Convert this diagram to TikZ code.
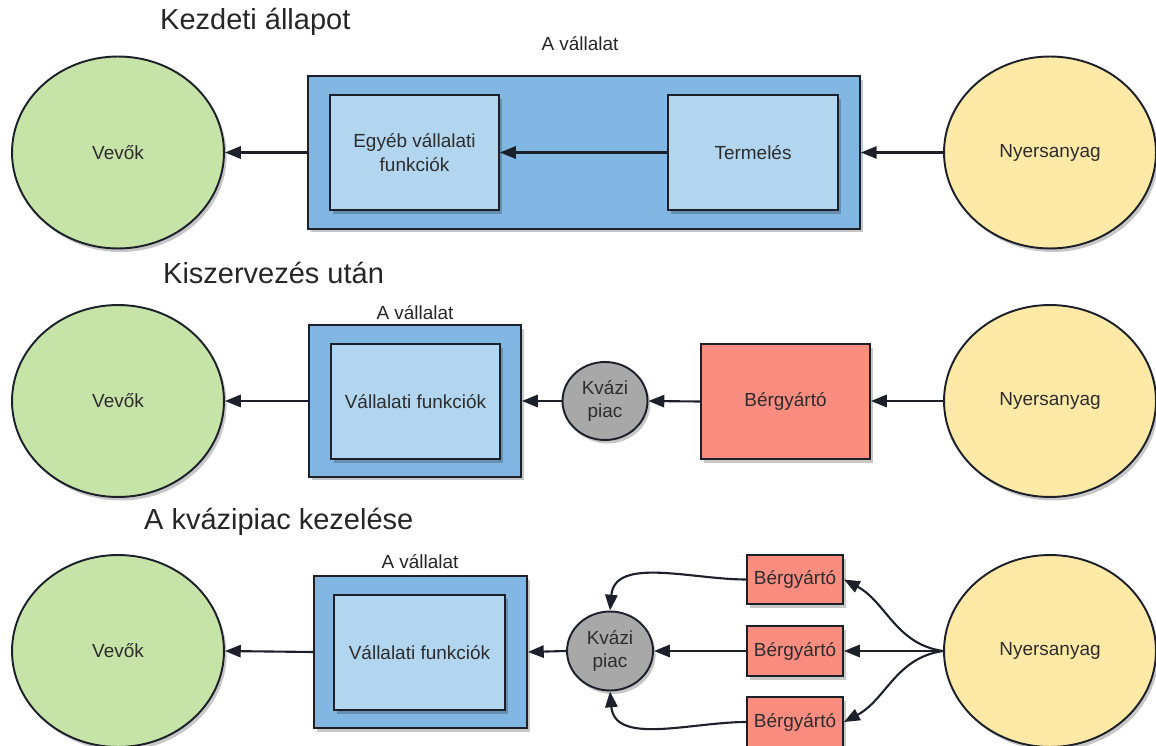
\documentclass[tikz,border=0pt]{standalone}
\usepackage{fontspec}
\setmainfont{Liberation Sans}
\usetikzlibrary{arrows.meta,shapes.geometric,shadows}
\definecolor{vgreen}{RGB}{198,228,168}
\definecolor{vyellow}{RGB}{254,233,166}
\definecolor{vblue}{RGB}{130,183,228}
\definecolor{vlblue}{RGB}{178,213,240}
\definecolor{vred}{RGB}{250,140,128}
\definecolor{vgray}{RGB}{168,168,168}
\definecolor{bord}{RGB}{28,32,42}
\definecolor{txt}{RGB}{45,45,45}
\begin{document}
\begin{tikzpicture}[x=0.02cm,y=-0.02cm,
  every node/.style={font=\fontsize{10.8}{14}\selectfont, text=txt},
  sh/.style={drop shadow={shadow xshift=1.5pt,shadow yshift=-2pt,opacity=0.22,fill=black}},
  circ/.style={ellipse, draw=bord, line width=1.1pt, minimum width=4.24cm, minimum height=3.84cm, inner sep=0pt, sh},
  cust/.style={circ, fill=vgreen},
  raw/.style={circ, fill=vyellow},
  outerbox/.style={rectangle, draw=bord, line width=1.1pt, fill=vblue, inner sep=0pt, sh},
  innerbox/.style={rectangle, draw=bord, line width=1.1pt, fill=vlblue, inner sep=0pt, align=center, sh},
  redbox/.style={rectangle, draw=bord, line width=1.1pt, fill=vred, inner sep=0pt, align=center, sh},
  market/.style={ellipse, draw=bord, line width=1.1pt, fill=vgray, inner sep=0pt, align=center, minimum width=1.7cm, minimum height=1.56cm, font=\fontsize{10.8}{13}\selectfont, sh},
  title/.style={font=\fontsize{16.5}{19}\selectfont, anchor=west, text=black!85},
  lbl/.style={font=\fontsize{10.8}{13}\selectfont, text=black!85},
  arr/.style={-{Triangle[length=9pt,width=7pt]}, line width=1.2pt, draw=bord}
]
\useasboundingbox (0,0) rectangle (1156,746);

% ---------- Row 1 ----------
\node[title] (t1) at (154,22) {Kezdeti állapot};
\node[cust] (vev1) at (118,152.5) {Vevők};
\node[raw] (nyer1) at (1050,152.5) {Nyersanyag};
\node[outerbox, minimum width=11.04cm, minimum height=3.06cm] (out1) at (584,152.5) {};
\node[lbl] (l1) at (580,44) {A vállalat};
\node[innerbox, minimum width=3.38cm, minimum height=2.3cm] (egy1) at (414.5,152.5) {Egyéb vállalati\\funkciók};
\node[innerbox, minimum width=3.4cm, minimum height=2.3cm] (ter1) at (753,152.5) {Termelés};
\draw[arr] (nyer1.west) -- (out1.east |- nyer1.west);
\draw[arr] (ter1.west) -- (egy1.east);
\draw[arr] (out1.west) -- (vev1.east);

% ---------- Row 2 ----------
\node[title] (t2) at (157,273) {Kiszervezés után};
\node[cust] (vev2) at (118,401) {Vevők};
\node[raw] (nyer2) at (1050,401) {Nyersanyag};
\node[outerbox, minimum width=4.24cm, minimum height=3.04cm] (out2) at (415,401) {};
\node[lbl] (l2) at (415,313) {A vállalat};
\node[innerbox, minimum width=3.38cm, minimum height=2.3cm] (in2) at (415.5,401.5) {Vállalati funkciók};
\node[market] (kv2) at (605,401) {Kvázi\\piac};
\node[redbox, minimum width=3.38cm, minimum height=2.3cm] (bg2) at (785.5,401.5) {Bérgyártó};
\draw[arr] (nyer2.west) -- (bg2.east |- nyer2.west);
\draw[arr] (bg2.west) -- (kv2.east);
\draw[arr] (kv2.west) -- (out2.east);
\draw[arr] (out2.west) -- (vev2.east);

% ---------- Row 3 ----------
\node[title] (t3) at (138,522) {A kvázipiac kezelése};
\node[cust] (vev3) at (118,651) {Vevők};
\node[raw] (nyer3) at (1050,651) {Nyersanyag};
\node[outerbox, minimum width=4.26cm, minimum height=3.04cm] (out3) at (420.5,652) {};
\node[lbl] (l3) at (420,562) {A vállalat};
\node[innerbox, minimum width=3.42cm, minimum height=2.3cm] (in3) at (419.5,652.5) {Vállalati funkciók};
\node[market, minimum width=1.72cm, minimum height=1.58cm] (kv3) at (610,651) {Kvázi\\piac};
\node[redbox, minimum width=1.92cm, minimum height=0.98cm] (bg3a) at (795,579.5) {Bérgyártó};
\node[redbox, minimum width=1.92cm, minimum height=1.0cm] (bg3b) at (795,651) {Bérgyártó};
\node[redbox, minimum width=1.92cm, minimum height=1.0cm] (bg3c) at (795,722) {Bérgyártó};
\draw[arr] (nyer3.west) to[out=172, in=-28] (bg3a.east);
\draw[arr] (nyer3.west) -- (bg3b.east);
\draw[arr] (nyer3.west) to[out=188, in=28] (bg3c.east);
\draw[arr] (bg3a.west) to[out=180, in=85] (kv3.north);
\draw[arr] (bg3b.west) -- (kv3.east);
\draw[arr] (bg3c.west) to[out=180, in=-85] (kv3.south);
\draw[arr] (kv3.west) -- (out3.east);
\draw[arr] (out3.west) -- (vev3.east);
\end{tikzpicture}
\end{document}
